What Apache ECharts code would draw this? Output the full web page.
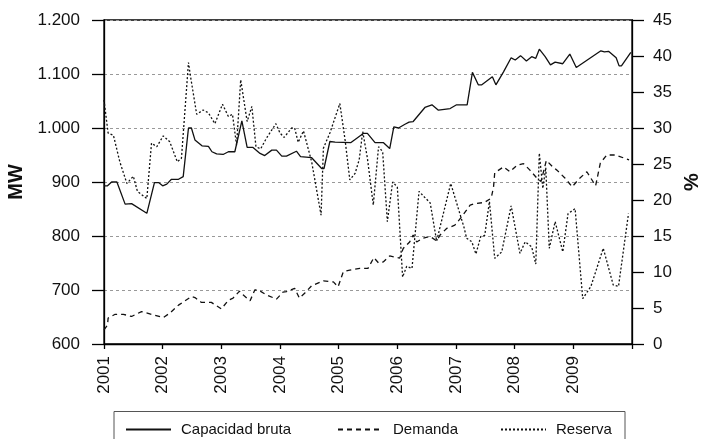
<!DOCTYPE html>
<html>
<head>
<meta charset="utf-8">
<script src="https://cdn.jsdelivr.net/npm/echarts@6/dist/echarts.min.js"></script>
<style>
  html, body { margin: 0; padding: 0; background: #fff; }
  #chart { width: 704px; height: 439px; }
</style>
</head>
<body>
<div id="chart"></div>
<script>
// capacidad bruta (MW, left axis)
const capX = [2001.0, 2001.06, 2001.13, 2001.22, 2001.36, 2001.47, 2001.73, 2001.86, 2001.93, 2002.0, 2002.07, 2002.15, 2002.27, 2002.35, 2002.44, 2002.49, 2002.55, 2002.67, 2002.78, 2002.84, 2002.92, 2003.03, 2003.12, 2003.23, 2003.35, 2003.44, 2003.54, 2003.66, 2003.74, 2003.86, 2003.94, 2004.03, 2004.11, 2004.28, 2004.35, 2004.54, 2004.71, 2004.75, 2004.85, 2004.94, 2005.21, 2005.42, 2005.49, 2005.62, 2005.76, 2005.87, 2005.94, 2006.02, 2006.13, 2006.2, 2006.27, 2006.47, 2006.59, 2006.7, 2006.9, 2007.01, 2007.19, 2007.28, 2007.38, 2007.44, 2007.62, 2007.68, 2007.81, 2007.94, 2008.01, 2008.1, 2008.2, 2008.29, 2008.36, 2008.42, 2008.52, 2008.61, 2008.69, 2008.82, 2008.94, 2009.05, 2009.47, 2009.53, 2009.6, 2009.73, 2009.78, 2009.82, 2009.98];
const capMW = [893, 893, 900, 900, 859, 860, 842, 899, 899, 893, 896, 905, 905, 910, 1000, 1000, 978, 967, 966, 956, 952, 951, 956, 956, 1013, 964, 964, 953, 949, 959, 959, 948, 948, 957, 947, 945, 925, 925, 975, 974, 973, 990, 990, 973, 973, 962, 1002, 1000, 1007, 1011, 1012, 1038, 1043, 1033, 1036, 1043, 1043, 1103, 1080, 1080, 1095, 1080, 1104, 1130, 1126, 1134, 1124, 1132, 1129, 1146, 1132, 1117, 1122, 1119, 1137, 1112, 1143, 1141, 1142, 1130, 1115, 1115, 1140];

// demanda (MW, left axis)
const demX = [2001.0, 2001.06, 2001.07, 2001.19, 2001.33, 2001.47, 2001.64, 2001.84, 2002.01, 2002.12, 2002.27, 2002.38, 2002.49, 2002.55, 2002.66, 2002.83, 2003.0, 2003.12, 2003.2, 2003.31, 2003.37, 2003.49, 2003.57, 2003.63, 2003.77, 2003.94, 2004.05, 2004.11, 2004.25, 2004.33, 2004.42, 2004.54, 2004.74, 2004.91, 2004.99, 2005.08, 2005.19, 2005.36, 2005.5, 2005.6, 2005.68, 2005.76, 2005.87, 2006.04, 2006.1, 2006.21, 2006.27, 2006.33, 2006.44, 2006.56, 2006.67, 2006.73, 2006.84, 2006.98, 2007.1, 2007.24, 2007.32, 2007.48, 2007.6, 2007.64, 2007.66, 2007.81, 2007.92, 2008.04, 2008.15, 2008.26, 2008.38, 2008.45, 2008.54, 2008.65, 2008.72, 2008.86, 2008.98, 2009.09, 2009.23, 2009.38, 2009.46, 2009.57, 2009.72, 2009.95];
const demMW = [626, 635, 648, 655, 655, 651, 660, 654, 649, 657, 672, 680, 688, 686, 677, 677, 665, 681, 685, 698, 691, 680, 700, 700, 691, 683, 696, 697, 703, 685, 694, 708, 717, 715, 706, 734, 737, 740, 740, 760, 750, 752, 763, 759, 777, 789, 802, 789, 796, 799, 791, 802, 814, 820, 836, 857, 860, 862, 870, 891, 917, 928, 919, 931, 934, 922, 907, 901, 940, 928, 922, 907, 891, 905, 919, 893, 935, 950, 950, 941];

// reserva (%, right axis)
const resX = [2001.0, 2001.07, 2001.16, 2001.27, 2001.39, 2001.5, 2001.57, 2001.73, 2001.81, 2001.9, 2002.01, 2002.12, 2002.25, 2002.32, 2002.44, 2002.47, 2002.58, 2002.69, 2002.78, 2002.89, 2003.02, 2003.12, 2003.19, 2003.26, 2003.33, 2003.44, 2003.52, 2003.59, 2003.67, 2003.77, 2003.93, 2004.0, 2004.07, 2004.2, 2004.25, 2004.31, 2004.4, 2004.54, 2004.7, 2004.74, 2004.85, 2005.02, 2005.11, 2005.19, 2005.28, 2005.35, 2005.41, 2005.49, 2005.59, 2005.68, 2005.75, 2005.83, 2005.92, 2006.0, 2006.09, 2006.16, 2006.25, 2006.37, 2006.45, 2006.56, 2006.67, 2006.91, 2007.04, 2007.14, 2007.18, 2007.27, 2007.34, 2007.42, 2007.49, 2007.57, 2007.66, 2007.78, 2007.94, 2008.09, 2008.18, 2008.29, 2008.36, 2008.42, 2008.48, 2008.53, 2008.59, 2008.69, 2008.82, 2008.91, 2009.03, 2009.16, 2009.3, 2009.51, 2009.68, 2009.77, 2009.94];
const resPct = [33.9, 29.3, 29.0, 25.3, 22.3, 23.3, 21.2, 20.2, 27.9, 27.4, 28.9, 28.1, 25.3, 25.8, 39.1, 37.4, 31.9, 32.5, 32.1, 30.6, 33.3, 31.6, 31.9, 27.6, 36.7, 30.9, 33.0, 27.4, 27.1, 28.6, 30.6, 29.3, 28.7, 30.0, 30.0, 28.0, 29.6, 25.3, 17.9, 27.2, 29.3, 33.4, 28.3, 22.8, 23.7, 25.6, 29.5, 25.8, 19.3, 27.4, 26.7, 17.0, 22.5, 21.8, 9.3, 10.8, 10.5, 21.2, 20.5, 19.6, 14.3, 22.3, 18.8, 16.1, 14.7, 14.2, 12.5, 14.9, 15.1, 19.8, 11.9, 12.8, 19.2, 12.6, 14.2, 13.5, 11.1, 26.5, 21.6, 24.5, 13.3, 17.0, 12.8, 18.1, 18.8, 6.3, 8.0, 13.3, 8.2, 8.0, 18.1];

const yearTicks = [2001, 2002, 2003, 2004, 2005, 2006, 2007, 2008, 2009];
const seriesNames = ['Capacidad bruta', 'Demanda', 'Reserva'];

const zip = (xs, ys) => xs.map((x, i) => [x, ys[i]]);
const font = 'Liberation Sans, Arial, sans-serif';

// one legend per entry, so each sits where it does in the original
const legendLeft = [125, 337, 500];
const legends = seriesNames.map((n, i) => ({
    left: legendLeft[i], top: 422, padding: 0,
    itemWidth: 45, itemHeight: 14,
    itemStyle: { opacity: 0 },
    textStyle: { fontFamily: font, fontSize: 15, color: '#111', padding: [0, 0, 0, 5] },
    data: [n]
}));

let myChart = echarts.init(document.getElementById('chart'));
let option = {
    animation: false,
    grid: {
        left: 104, right: 72, top: 20, bottom: 95,
        containLabel: false, outerBoundsMode: 'none',
        show: true, borderColor: '#000', borderWidth: 1.3
    },
    legend: legends,
    graphic: [{
        type: 'rect', left: 111.5, top: 409,
        shape: { width: 511, height: 40 },
        style: { fill: 'none', stroke: '#555', lineWidth: 1 }
    }],
    xAxis: {
        type: 'value',
        min: 2001, max: 2010, interval: 1,
        axisLine: { lineStyle: { color: '#000', width: 1.3 } },
        axisTick: { length: 5, lineStyle: { color: '#000', width: 1.3 } },
        axisLabel: {
            rotate: 90, margin: 12, fontFamily: font, fontSize: 17, color: '#111',
            formatter: v => yearTicks.includes(v) ? String(v) : ''
        },
        splitLine: { show: false }
    },
    yAxis: [{
        type: 'value', min: 600, max: 1200, interval: 100,
        name: 'MW', nameLocation: 'middle', nameGap: 78,
        nameTextStyle: { fontFamily: font, fontSize: 20, fontWeight: 'bold', color: '#111' },
        axisLine: { show: true, lineStyle: { color: '#000', width: 1.3 } },
        axisTick: { show: true, length: 12, lineStyle: { color: '#000', width: 1.3 } },
        axisLabel: {
            margin: 24, fontFamily: font, fontSize: 17, color: '#111',
            formatter: v => v >= 1000 ? Math.floor(v / 1000) + '.' + String(v % 1000).padStart(3, '0') : String(v)
        },
        splitLine: { show: true, lineStyle: { color: '#999', type: [3, 3], width: 1 } }
    }, {
        type: 'value', min: 0, max: 45, interval: 5,
        name: '%', nameLocation: 'middle', nameGap: 50, nameRotate: 90,
        nameTextStyle: { fontFamily: font, fontSize: 20, fontWeight: 'bold', color: '#111' },
        axisLine: { show: true, lineStyle: { color: '#000', width: 1.3 } },
        axisTick: { show: true, length: 12, lineStyle: { color: '#000', width: 1.3 } },
        axisLabel: { margin: 21, fontFamily: font, fontSize: 17, color: '#111' },
        splitLine: { show: false }
    }],
    series: [{
        name: seriesNames[0], type: 'line', yAxisIndex: 0, symbol: 'none',
        lineStyle: { color: '#111', width: 1.3, type: 'solid' },
        itemStyle: { color: '#111' },
        data: zip(capX, capMW)
    }, {
        name: seriesNames[1], type: 'line', yAxisIndex: 0, symbol: 'none',
        lineStyle: { color: '#111', width: 1.3, type: [5, 4] },
        itemStyle: { color: '#111' },
        data: zip(demX, demMW)
    }, {
        name: seriesNames[2], type: 'line', yAxisIndex: 1, symbol: 'none',
        lineStyle: { color: '#111', width: 1.3, type: [2, 2] },
        itemStyle: { color: '#111' },
        data: zip(resX, resPct)
    }]
};
myChart.setOption(option);
window.onresize = function () {
    myChart.resize();
}
</script>
</body>
</html>
